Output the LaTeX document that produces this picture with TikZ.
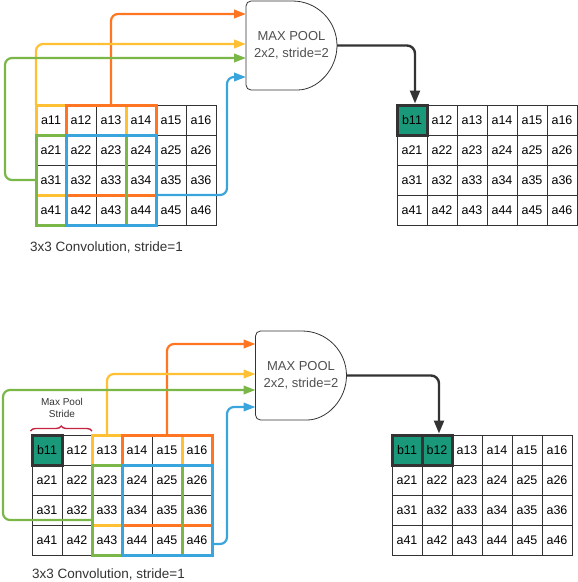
\documentclass[tikz,border=0pt]{standalone}
\usepackage{fontspec}
\setmainfont{Liberation Sans}
\usetikzlibrary{arrows.meta,decorations.pathreplacing,calc}
\definecolor{cOr}{RGB}{255,117,33}
\definecolor{cYe}{RGB}{255,192,51}
\definecolor{cGr}{RGB}{122,182,72}
\definecolor{cBl}{RGB}{58,164,221}
\definecolor{cTeal}{RGB}{26,153,122}
\definecolor{cDark}{RGB}{51,51,51}
\definecolor{cBrace}{RGB}{196,36,64}
\definecolor{cText}{RGB}{51,51,51}
\definecolor{cPool}{RGB}{80,80,80}
\tikzset{
 cell/.style={draw=cDark, line width=0.9pt, minimum width=30pt, minimum height=30pt, inner sep=0pt, outer sep=0pt, font=\fontsize{12.5}{14}\selectfont, text=black},
 bcell/.style={cell, fill=cTeal, line width=3pt, outer sep=1.5pt},
 winbox/.style={draw=#1, line width=3pt, minimum width=90pt, minimum height=90pt, inner sep=0pt, outer sep=0pt},
 feed/.style={draw=#1, line width=2.2pt, rounded corners=7pt, -{Triangle[length=12pt,width=8.5pt,fill=#1]}},
 outarr/.style={draw=cDark, line width=2.4pt, rounded corners=8pt, -{Triangle[length=13pt,width=10pt]}},
 pooltext/.style={minimum width=91pt, minimum height=89pt, inner sep=0pt, outer sep=0pt, align=center, font=\fontsize{13}{17}\selectfont, text=cPool},
 poolline/.style={draw=cDark, line width=0.8pt},
 caption/.style={anchor=west, font=\fontsize{13.5}{16}\selectfont, text=cText, inner sep=0pt},
 bracelabel/.style={font=\fontsize{10}{12}\selectfont, text=cText, align=center, inner sep=0pt},
}
\newcommand\poolshape[1]{%
 \draw[poolline, rounded corners=5pt] ($(#1.north east)+(-44.5,0)$) -- (#1.north west) -- (#1.south west) -- ($(#1.south east)+(-44.5,0)$) arc[start angle=90,end angle=-90,radius=44.5];}
\begin{document}
\begin{tikzpicture}[x=1pt,y=-1pt]
\useasboundingbox (0,0) rectangle (578,582);
% ---------- top panel ----------
\foreach \r in {1,...,4}{\foreach \c in {1,...,6}{
  \node[cell] (TL-\r-\c) at ({21+30*\c},{90+30*\r}) {a\r\c};}}
\foreach \c/\s/\t in {1/bcell/b11,2/cell/a12,3/cell/a13,4/cell/a14,5/cell/a15,6/cell/a16}{
  \node[\s] (TR-1-\c) at ({382+30*\c},120) {\t};}
\foreach \r in {2,3,4}{\foreach \c in {1,...,6}{
  \node[cell] (TR-\r-\c) at ({382+30*\c},{90+30*\r}) {a\r\c};}}
\node[winbox=cYe] (Y1) at (81,150) {};
\node[winbox=cOr] (O1) at (111,150) {};
\node[winbox=cGr] (G1) at (81,180) {};
\node[winbox=cBl] (B1) at (111,180) {};
\node[pooltext] (pool1) at (291.5,45.5) {MAX POOL\\2x2, stride=2};
\poolshape{pool1}
\coordinate (p1o) at (246,14);
\coordinate (p1y) at (246,44);
\coordinate (p1g) at (246,58);
\coordinate (p1b) at (246,77);
\coordinate (gk1) at (5,58);
\coordinate (bk1) at (227,77);
\coordinate (bs1) at ($(B1.south east)!0.3333!(B1.north east)$);
\draw[feed=cOr] (O1.north) |- (p1o);
\draw[feed=cYe] (Y1.north west) |- (p1y);
\draw[feed=cGr] (G1.west) -| (gk1) -- (p1g);
\draw[feed=cBl] (bs1) -| (bk1) -- (p1b);
\draw[outarr] (pool1.east) -| ($(TR-1-1.north)+(3,0)$);
\node[caption] (cap1) at (30,247) {3x3 Convolution, stride=1};
% ---------- bottom panel ----------
\foreach \c/\s/\t in {1/bcell/b11,2/cell/a12,3/cell/a13,4/cell/a14,5/cell/a15,6/cell/a16}{
  \node[\s] (BL-1-\c) at ({17+30*\c},450) {\t};}
\foreach \r in {2,3,4}{\foreach \c in {1,...,6}{
  \node[cell] (BL-\r-\c) at ({17+30*\c},{420+30*\r}) {a\r\c};}}
\foreach \c/\s/\t in {1/bcell/b11,2/bcell/b12,3/cell/a13,4/cell/a14,5/cell/a15,6/cell/a16}{
  \node[\s] (BR-1-\c) at ({377+30*\c},450) {\t};}
\foreach \r in {2,3,4}{\foreach \c in {1,...,6}{
  \node[cell] (BR-\r-\c) at ({377+30*\c},{420+30*\r}) {a\r\c};}}
\node[winbox=cYe] (Y2) at (137,480) {};
\node[winbox=cOr] (O2) at (167,480) {};
\node[winbox=cGr] (G2) at (137,510) {};
\node[winbox=cBl] (B2) at (167,510) {};
\node[pooltext] (pool2) at (301,375.5) {MAX POOL\\2x2, stride=2};
\poolshape{pool2}
\coordinate (p2o) at (255.5,344);
\coordinate (p2y) at (255.5,374);
\coordinate (p2g) at (255.5,390);
\coordinate (p2b) at (255.5,407);
\coordinate (gk2) at (3,390);
\coordinate (bk2) at (227,407);
\coordinate (ys2) at ($(Y2.north west)+(15,0)$);
\coordinate (gs2) at ($(G2.west)+(0,10)$);
\coordinate (bs2) at ($(B2.south east)+(0,-11)$);
\draw[feed=cOr] (O2.north) |- (p2o);
\draw[feed=cYe] (ys2) |- (p2y);
\draw[feed=cGr] (gs2) -| (gk2) -- (p2g);
\draw[feed=cBl] (bs2) -| (bk2) -- (p2b);
\draw[outarr] (pool2.east) -| ($(BR-1-2.north)+(2,0)$);
\draw[draw=cBrace, line width=1.4pt, decorate, decoration={brace, amplitude=5pt, raise=2.5pt}]
  (BL-1-1.north west) -- (BL-1-2.north east |- BL-1-1.north west);
\node[bracelabel] (mps) at (62,408) {Max Pool\\Stride};
\node[caption] (cap2) at (32,574.5) {3x3 Convolution, stride=1};
\end{tikzpicture}
\end{document}
